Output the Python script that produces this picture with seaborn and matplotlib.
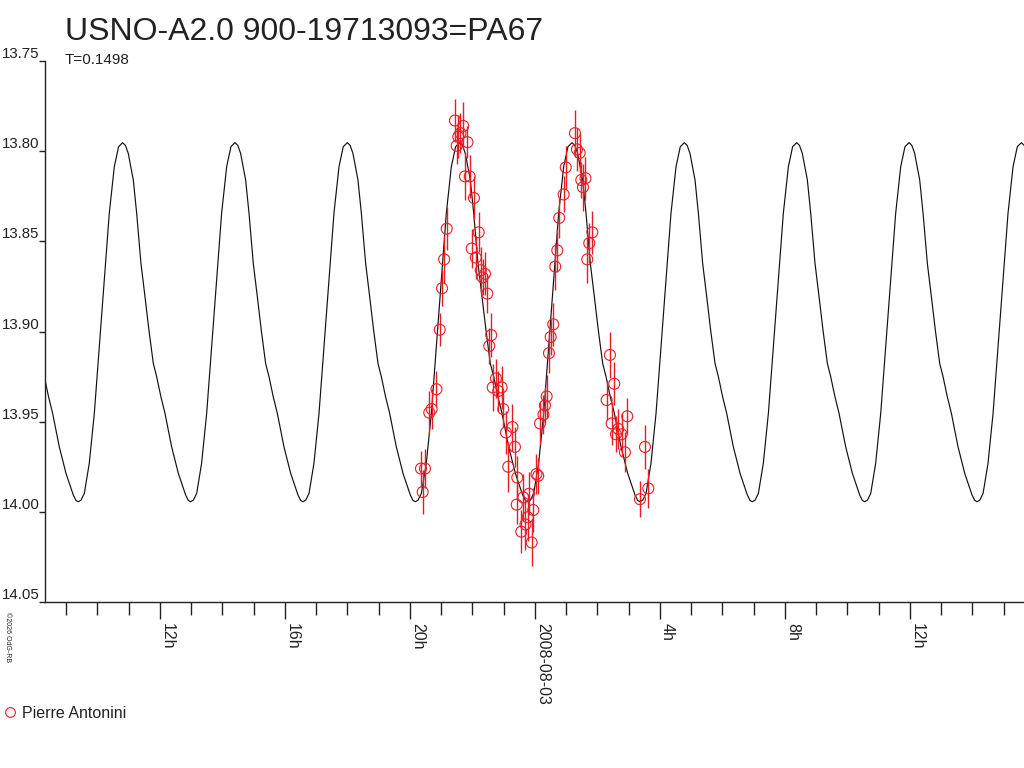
import matplotlib
matplotlib.use("Agg")
import matplotlib.pyplot as plt
from matplotlib.lines import Line2D
import numpy as np
import pandas as pd
import seaborn as sns

# ---------------------------
# Datos (horas desde 2008-08-02 00:00 UT, magnitudes)
# ---------------------------
TITLE = "USNO-A2.0 900-19713093=PA67"
PERIOD_D = 0.1498
EPOCH_H = 21.59          # instante de un máximo del modelo

# perfil de una fase del modelo (fase 0 = máximo)
phase_profile = [0.000, 0.025, 0.050, 0.095, 0.125, 0.163, 0.199, 0.234, 0.273,
                 0.303, 0.340, 0.377, 0.436, 0.496, 0.561, 0.585, 0.605, 0.630,
                 0.659, 0.703, 0.748, 0.792, 0.837, 0.881, 0.926, 0.964]
mag_profile = [13.7953, 13.7968, 13.8012, 13.8160, 13.8345, 13.8622, 13.8807, 13.8992, 13.9177,
               13.9251, 13.9360, 13.9454, 13.9639, 13.9787, 13.9907, 13.9937, 13.9944, 13.9935,
               13.9898, 13.9731, 13.9454, 13.9085, 13.8715, 13.8345, 13.8086, 13.7975]

obs_hours = [20.406, 20.352, 20.480, 20.618, 20.694, 20.848, 20.953, 21.027, 21.094, 21.175,
             21.440, 21.705, 21.616, 21.546, 21.494, 21.840, 21.760, 21.911, 22.048, 22.198,
             21.974, 22.106, 22.266, 22.400, 22.326, 22.474, 22.601, 22.537, 22.752, 22.647,
             22.934, 22.826, 22.985, 23.280, 23.072, 23.359, 23.145, 23.434, 23.626, 23.808,
             23.415, 23.946, 23.767, 23.696, 23.562, 23.894, 24.048, 24.105, 24.160, 24.272,
             24.320, 24.374, 24.448, 24.503, 24.585, 24.649, 24.714, 24.777, 24.918, 24.985,
             25.280, 25.344, 25.431, 25.616, 25.482, 25.536, 25.834, 25.737, 25.673, 26.400,
             26.538, 26.294, 26.954, 26.454, 26.665, 26.592, 26.774, 26.879, 27.520, 27.360,
             27.626]
obs_mag = [13.989, 13.976, 13.976, 13.945, 13.943, 13.932, 13.899, 13.876, 13.860, 13.843,
           13.783, 13.786, 13.790, 13.792, 13.797, 13.795, 13.814, 13.814, 13.826, 13.845,
           13.854, 13.859, 13.866, 13.868, 13.870, 13.879, 13.902, 13.908, 13.926, 13.931,
           13.931, 13.933, 13.943, 13.953, 13.956, 13.964, 13.975, 13.981, 13.992, 13.990,
           13.996, 13.999, 14.003, 14.007, 14.011, 14.017, 13.979, 13.980, 13.951, 13.946,
           13.941, 13.936, 13.912, 13.903, 13.896, 13.864, 13.855, 13.837, 13.824, 13.809,
           13.790, 13.799, 13.801, 13.815, 13.816, 13.820, 13.845, 13.851, 13.860, 13.913,
           13.929, 13.938, 13.947, 13.951, 13.954, 13.957, 13.957, 13.967, 13.964, 13.993,
           13.987]
obs_err = [0.012, 0.010, 0.011, 0.012, 0.011, 0.010, 0.009, 0.010, 0.013, 0.012,
           0.012, 0.013, 0.011, 0.012, 0.010, 0.009, 0.013, 0.012, 0.012, 0.011,
           0.011, 0.012, 0.013, 0.012, 0.010, 0.011, 0.012, 0.010, 0.011, 0.013,
           0.012, 0.011, 0.010, 0.013, 0.012, 0.011, 0.014, 0.012, 0.013, 0.012,
           0.011, 0.012, 0.013, 0.014, 0.012, 0.013, 0.011, 0.010, 0.012, 0.011,
           0.010, 0.012, 0.011, 0.010, 0.012, 0.013, 0.012, 0.011, 0.010, 0.012,
           0.013, 0.012, 0.011, 0.012, 0.010, 0.013, 0.012, 0.011, 0.013, 0.013,
           0.012, 0.011, 0.010, 0.012, 0.011, 0.010, 0.012, 0.011, 0.012, 0.010,
           0.011]

x_ticks = [12, 16, 20, 24, 28, 32, 36]
x_labels = ["12h", "16h", "20h", "2008-08-03", "4h", "8h", "12h"]
y_ticks = [13.75, 13.80, 13.85, 13.90, 13.95, 14.00, 14.05]
y_labels = ["13.75", "13.80", "13.85", "13.90", "13.95", "14.00", "14.05"]
x_lim = (8.32, 39.65)
observer = "Pierre Antonini"

ROJO = "#ea1c24"
GRIS = "#222222"

# ---------------------------
# Curva del modelo repetida con el periodo
# ---------------------------
period_h = PERIOD_D * 24
ph = np.array(phase_profile)
mg = np.array(mag_profile)
t_model, m_model = [], []
for n in range(-5, 7):
    t_model.extend(EPOCH_H + (n + ph) * period_h)
    m_model.extend(mg)
model = pd.DataFrame({"hora": t_model, "mag": m_model})
model = model[(model.hora > x_lim[0] - 1) & (model.hora < x_lim[1] + 1)]

obs = pd.DataFrame({"hora": obs_hours, "mag": obs_mag, "err": obs_err})

# ---------------------------
# Figura
# ---------------------------
sns.set_style("white")
plt.rcParams["font.family"] = ["Liberation Sans", "DejaVu Sans"]

fig = plt.figure(figsize=(10.24, 7.68), dpi=100)
ax = fig.add_axes([45 / 1024, 166 / 768, 979 / 1024, 541 / 768])

sns.lineplot(data=model, x="hora", y="mag", color="#111111", lw=0.85, sort=False, ax=ax)
ax.errorbar(obs.hora, obs.mag, yerr=obs.err, fmt="none", ecolor=ROJO, elinewidth=1.0, zorder=3)
sns.scatterplot(data=obs, x="hora", y="mag", marker="o", s=62, facecolors="none",
                edgecolor=ROJO, linewidth=0.8, zorder=4, ax=ax)

ax.set_xlim(*x_lim)
ax.set_ylim(y_ticks[-1], y_ticks[0])
ax.set_xlabel("")
ax.set_ylabel("")

ax.set_xticks(x_ticks, x_labels)
ax.set_xticks(np.arange(9, 40), minor=True)
ax.set_yticks(y_ticks, y_labels)

ax.tick_params(axis="x", which="major", direction="out", length=12, width=1, pad=3,
               labelsize=11.5, colors=GRIS, bottom=True)
ax.tick_params(axis="x", which="minor", direction="out", length=9, width=1, colors=GRIS, bottom=True)
ax.tick_params(axis="y", direction="out", length=4, width=1, pad=0, labelsize=10.8,
               colors=GRIS, left=True)
for lab in ax.get_xticklabels():
    lab.set_rotation(-90)
    lab.set_ha("left")
    lab.set_va("top")
for lab in ax.get_yticklabels():
    lab.set_va("bottom")

for s in ["top", "right"]:
    ax.spines[s].set_visible(False)
for s in ["left", "bottom"]:
    ax.spines[s].set_color(GRIS)
    ax.spines[s].set_linewidth(1)

fig.text(65 / 1024, 1 - 40 / 768, TITLE, fontsize=23, color=GRIS, va="baseline")
fig.text(65 / 1024, 1 - 64 / 768, f"T={PERIOD_D}", fontsize=11, color=GRIS, va="baseline")
fig.text(4 / 1024, 1 - 612 / 768, "©2026 OdG-RB", fontsize=5, rotation=-90,
         ha="left", va="top", color=GRIS)

handle = Line2D([], [], marker="o", ls="none", mfc="none", mec=ROJO, ms=7, mew=0.8)
fig.legend([handle], [observer], loc="center left", bbox_to_anchor=(0.0, 1 - 713 / 768),
           frameon=False, fontsize=11.5, handlelength=0.8, handletextpad=0.4,
           borderpad=0, borderaxespad=0.2, labelcolor=GRIS)

fig.savefig("out.png", dpi=100)
